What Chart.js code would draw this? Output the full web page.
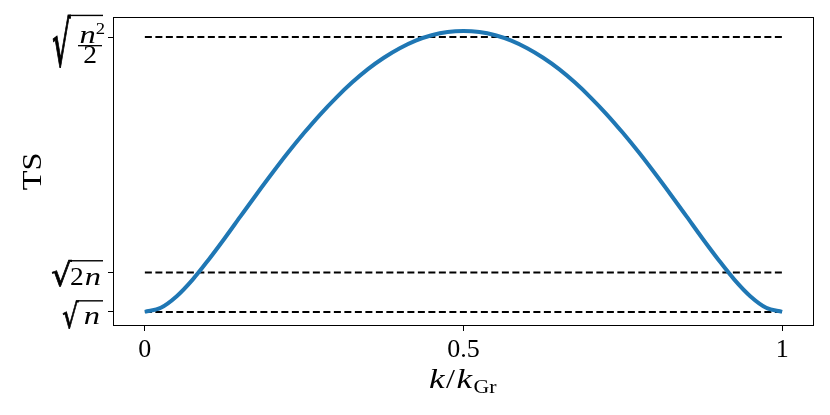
<!DOCTYPE html>
<html><head><meta charset="utf-8">
<script src="https://cdn.jsdelivr.net/npm/chart.js@4"></script>
<style>html,body{margin:0;padding:0;background:#fff}#wrap{width:830px;height:415px}</style>
</head><body><div id="wrap"><canvas id="c" width="830" height="415"></canvas></div>
<script>
// ---- data ----
const kValues = [0,0.025,0.05,0.075,0.1,0.125,0.15,0.175,0.2,0.225,0.25,0.275,0.3,0.325,0.35,0.375,0.4,0.425,0.45,0.475,0.5,
                 0.525,0.55,0.575,0.6,0.625,0.65,0.675,0.7,0.725,0.75,0.775,0.8,0.825,0.85,0.875,0.9,0.925,0.95,0.975,1];
const tsValues = [5.51,5.75,6.42,7.38,8.53,9.76,11.04,12.31,13.55,14.75,15.88,16.94,17.91,18.79,19.57,20.23,20.78,21.22,21.53,21.72,21.78,
                  21.72,21.53,21.22,20.78,20.23,19.57,18.79,17.91,16.94,15.88,14.75,13.55,12.31,11.04,9.76,8.53,7.38,6.42,5.75,5.51];
const levelLabels = ['√n', '√2n', '√(n²/2)'];
const levelValues = [5.505, 7.785, 21.43];
const levelSpan = [0, 1];
const xTickValues = [0, 0.5, 1];
const xTickLabels = ['0', '0.5', '1'];
const yTitle = 'TS';

const SERIF = '"Liberation Serif"';

// draw text with horizontal stretch; returns drawn width
function stext(ctx, txt, x, y, font, sx, align) {
  ctx.save();
  ctx.font = font;
  ctx.textAlign = 'left';
  const w = ctx.measureText(txt).width * sx;
  let x0 = x;
  if (align === 'right') x0 = x - w;
  else if (align === 'center') x0 = x - w / 2;
  ctx.translate(x0, y);
  ctx.scale(sx, 1);
  ctx.fillText(txt, 0, 0);
  ctx.restore();
  return w;
}
function twidth(ctx, txt, font, sx) { ctx.save(); ctx.font = font; const w = ctx.measureText(txt).width * sx; ctx.restore(); return w; }

function radical(ctx, xl, xr, top, bottom, right) {
  ctx.save();
  ctx.font = '40px "DejaVu Serif"';
  ctx.textAlign = 'left'; ctx.textBaseline = 'alphabetic';
  const m = ctx.measureText('√');
  const gw = m.actualBoundingBoxRight + m.actualBoundingBoxLeft;
  const gh = m.actualBoundingBoxAscent + m.actualBoundingBoxDescent;
  ctx.translate(xl, top);
  ctx.scale((xr - xl) / gw, (bottom - top) / gh);
  ctx.fillText('√', m.actualBoundingBoxLeft, m.actualBoundingBoxAscent);
  ctx.lineWidth = 0.9; ctx.strokeStyle = '#000';
  ctx.strokeText('√', m.actualBoundingBoxLeft, m.actualBoundingBoxAscent);
  ctx.restore();
  ctx.fillRect(xr - 1.5, top, right - xr + 1.5, 1.4);
}

const MI = 'italic 25px ' + SERIF, MR = '25px ' + SERIF;
const decor = {
  id: 'decor',
  afterDatasetsDraw(chart) {
    const { ctx, chartArea: a } = chart;
    ctx.save();
    ctx.strokeStyle = '#000'; ctx.lineWidth = 1;
    ctx.strokeRect(a.left + 0.5, a.top + 0.5, a.right - a.left - 1, a.bottom - a.top - 1);
    ctx.restore();
  },
  afterDraw(chart) {
    const { ctx, chartArea: a, scales: { y } } = chart;
    ctx.save();
    ctx.fillStyle = '#000';
    ctx.textBaseline = 'alphabetic';
    levelValues.forEach((v, i) => {
      const cy = y.getPixelForValue(v);
      const R = 103;
      if (i === 0) {
        radical(ctx, 63, 79, cy - 11.8, cy + 17, R);
        stext(ctx, 'n', 100, cy + 12, MI, 1.3, 'right');
      } else if (i === 1) {
        radical(ctx, 52, 72, cy - 12.5, cy + 14.5, R);
        const wn = stext(ctx, 'n', 101, cy + 12, MI, 1.3, 'right');
        stext(ctx, '2', 100 - wn, cy + 12, MR, 1.1, 'right');
      } else {
        radical(ctx, 53, 71, cy - 22.3, cy + 31, R);
        const wn = stext(ctx, 'n', 79.5, cy + 5.5, MI, 1.3, 'left');
        stext(ctx, '2', 79.5 + wn, cy - 3.5, '17px ' + SERIF, 1.1, 'left');
        ctx.fillRect(78, cy + 8, 24, 1.3);
        stext(ctx, '2', 90, cy + 26, MR, 1.1, 'center');
      }
    });
    // y title
    ctx.save();
    ctx.translate(34, (a.top + a.bottom) / 2);
    ctx.rotate(-Math.PI / 2);
    ctx.textBaseline = 'middle';
    stext(ctx, yTitle, 0, 0, '28px ' + SERIF, 1.15, 'center');
    ctx.restore();
    // x title: k/k_Gr
    const pieces = [
      ['k', 'italic 27px ' + SERIF, 0, 1.3],
      ['/', '27px ' + SERIF, 0, 1.2],
      ['k', 'italic 27px ' + SERIF, 0, 1.3],
      ['Gr', '19px ' + SERIF, 5, 1.15]
    ];
    let total = 0;
    const ws = pieces.map(p => { const w = twidth(ctx, p[0], p[1], p[3]); total += w + 1.5; return w; });
    let xx = (a.left + a.right) / 2 - total / 2;
    const base = 388;
    pieces.forEach((p, i) => { stext(ctx, p[0], xx, base + p[2], p[1], p[3], 'left'); xx += ws[i] + 1.5; });
    ctx.restore();
  }
};

const datasets = [{
  data: kValues.map((k, i) => ({ x: k, y: tsValues[i] })),
  borderColor: '#1f77b4', borderWidth: 4, pointRadius: 0,
  cubicInterpolationMode: 'monotone', fill: false
}];
levelValues.forEach(v => datasets.push({
  data: levelSpan.map(k => ({ x: k, y: v })),
  borderColor: '#000', borderWidth: 2, borderDash: [7, 3.5], pointRadius: 0, fill: false
}));

new Chart(document.getElementById('c'), {
  type: 'line',
  data: { datasets },
  options: {
    responsive: false, animation: false, devicePixelRatio: 1,
    layout: { padding: { top: 17, right: 16, left: 0, bottom: 0 } },
    plugins: { legend: { display: false }, tooltip: { enabled: false } },
    scales: {
      x: {
        type: 'linear', min: -0.05, max: 1.05,
        afterBuildTicks: s => { s.ticks = xTickValues.map(v => ({ value: v })); },
        afterFit: s => { s.height = 89; },
        ticks: { autoSkip: false, maxRotation: 0, color: '#000', padding: 4,
                 font: { family: 'Liberation Serif', size: 26 },
                 callback: (v) => xTickLabels[xTickValues.indexOf(v)] ?? '' },
        grid: { drawOnChartArea: false, drawTicks: true, tickLength: 5, color: '#000', lineWidth: 1 },
        border: { display: false }
      },
      y: {
        type: 'linear', min: 4.69, max: 22.59,
        afterBuildTicks: s => { s.ticks = levelValues.map(v => ({ value: v })); },
        afterFit: s => { s.width = 113; },
        ticks: { callback: () => '' },
        grid: { drawOnChartArea: false, drawTicks: true, tickLength: 5, color: '#000', lineWidth: 1 },
        border: { display: false }
      }
    }
  },
  plugins: [decor]
});
</script></body></html>
